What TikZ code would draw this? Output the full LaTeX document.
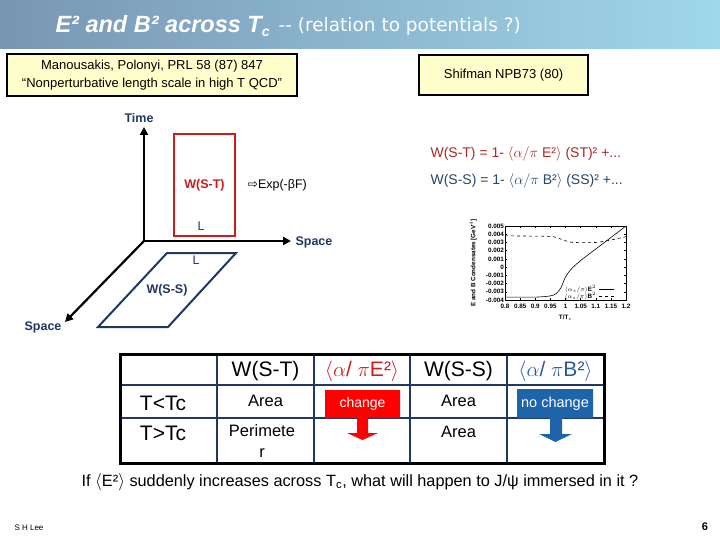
\documentclass[tikz,border=0pt]{standalone}
\usepackage{fontspec}
\setmainfont{Liberation Sans}
\newfontfamily\dejavu{DejaVu Sans}
\usetikzlibrary{positioning,arrows.meta}
\definecolor{navy}{RGB}{31,56,100}
\definecolor{noteyellow}{RGB}{255,255,204}
\definecolor{loopred}{RGB}{204,28,28}
\definecolor{formred}{RGB}{170,40,40}
\definecolor{formnavy}{RGB}{40,70,110}
\definecolor{headblue}{RGB}{40,90,160}
\definecolor{nochblue}{RGB}{30,100,170}
\definecolor{bannerL}{RGB}{120,150,180}
\definecolor{bannerM}{RGB}{20,50,120}
\definecolor{bannerR}{RGB}{160,215,235}
\begin{document}
\begin{tikzpicture}[x=1pt,y=-1pt,
  refbox/.style={draw=black,line width=2pt,fill=noteyellow,align=center,
    font=\fontsize{13}{18}\selectfont},
  axislabel/.style={text=navy,font=\fontsize{12.5}{14}\selectfont\bfseries},
  axisline/.style={line width=2.2pt,-{Triangle[length=8pt,width=8pt]}},
  gridline/.style={draw=navy,line width=1.2pt},
  cell/.style={font=\fontsize{16.5}{21}\selectfont,align=center},
  headcell/.style={font=\fontsize{21}{24}\selectfont},
  ticklab/.style={font=\fontsize{6.3}{7}\selectfont\bfseries,inner sep=1pt}]
\useasboundingbox (0,0) rectangle (720,540);
\fill[white] (0,0) rectangle (720,540);

% banner
\shade[left color=bannerL,middle color=bannerM,right color=bannerR] (0,0) rectangle (720,49);
\node[anchor=west,text=white,font=\fontsize{23.5}{26}\selectfont\bfseries\itshape] (title) at (52,26)
  {E² and B² across T\raisebox{-0.35ex}{\fontsize{14}{14}\selectfont c}};
\node[anchor=west,text=white,font=\dejavu\fontsize{18.5}{20}\selectfont] (subtitle) at ([xshift=2pt]title.east) {-- (relation to potentials ?)};

% references
\node[refbox,minimum width=290pt,minimum height=42pt] (manou) at (152,75)
  {Manousakis, Polonyi, PRL 58 (87) 847\\``Nonperturbative length scale in high T QCD''};
\node[refbox,minimum width=169pt,minimum height=40pt] (shifman) at (503.5,75) {Shifman NPB73 (80)};

% space-time axes
\coordinate (origin) at (144,241);
\coordinate (timetip) at (144,127);
\coordinate (spacetip) at (291,241);
\coordinate (depthtip) at (65,322);
\draw[axisline] (origin) -- (timetip);
\draw[axisline] (origin) -- (spacetip);
\draw[axisline] (origin) -- (depthtip);
\node[axislabel] (time) at (139,118) {Time};
\node[axislabel,anchor=west] (spaceR) at (292,242) {Space};
\node[axislabel] (spaceL) at (43,327) {Space};

% loops
\node[draw=loopred,line width=2.5pt,minimum width=61pt,minimum height=102pt,text=loopred,
  font=\fontsize{12.5}{14}\selectfont\bfseries] (wst) at (204.5,185) {W(S-T)};
\node[text=navy,font=\fontsize{12.5}{14}\selectfont] (lst) at (201,226) {L};
\node[anchor=west,font=\fontsize{12.5}{14}\selectfont] (expf) at (244,185) {{\dejavu⇨}Exp(-βF)};
\draw[navy,line width=2pt] (167,253) -- (236,253) -- (168,327) -- (98,327) -- cycle;
\node[text=navy,font=\fontsize{12.5}{14}\selectfont] (lss) at (196,260) {L};
\node[text=navy,font=\fontsize{12.5}{14}\selectfont\bfseries] (wss) at (167,290) {W(S-S)};

% expansions
\node[anchor=west,text=formred,font=\fontsize{14}{16}\selectfont] (eqst) at (427,154)
  {W(S-T) = 1- $\langle\alpha/\pi$ E²$\rangle$ (ST)² +...};
\node[anchor=west,text=formnavy,font=\fontsize{14}{16}\selectfont] (eqss) at (427,181)
  {W(S-S) = 1- $\langle\alpha/\pi$ B²$\rangle$ (SS)² +...};

% condensates plot
\begin{scope}[shift={(505,300)},x=302.5pt,y=8.22pt]
  \draw[line width=0.6pt] (0,0) rectangle (0.4,9);
  \foreach \i/\lab in {0/-0.004,1/-0.003,2/-0.002,3/-0.001,4/0,5/0.001,6/0.002,7/0.003,8/0.004,9/0.005} {
    \draw[line width=0.4pt] (0,\i) -- ++(0.008,0);
    \draw[line width=0.4pt] (0.4,\i) -- ++(-0.008,0);
    \node[ticklab,anchor=east] at (0,\i) {\lab};
  }
  \foreach \i/\lab in {0/0.8,0.05/0.85,0.1/0.9,0.15/0.95,0.2/1,0.25/1.05,0.3/1.1,0.35/1.15,0.4/1.2} {
    \draw[line width=0.4pt] (\i,0) -- ++(0,0.3);
    \draw[line width=0.4pt] (\i,9) -- ++(0,-0.3);
    \node[ticklab,anchor=north] at (\i,-0.4) {\lab};
  }
  \node[ticklab] (ttc) at (0.2,-2.2) {T/T$_c$};
  \node[ticklab,rotate=90] (ylab) at (-0.105,4.5) {E and B Condensates [GeV$^4$]};
  \draw[line width=0.6pt] plot[smooth] coordinates {(0,0.35) (0.1,0.35) (0.15,0.5) (0.17,0.8)
    (0.185,1.5) (0.2,2.8) (0.22,3.8) (0.25,4.8) (0.3,6.2) (0.35,7.6) (0.4,9)};
  \draw[line width=0.6pt,dashed] plot[smooth] coordinates {(0,7.8) (0.14,7.75) (0.17,7.6)
    (0.2,7.2) (0.23,7.0) (0.3,7.0) (0.35,7.3) (0.4,7.7)};
  \node[ticklab,anchor=east] (legE) at (0.305,1.35) {$\langle\alpha_s/\pi\rangle$E$^2$};
  \node[ticklab,anchor=east] (legB) at (0.305,0.5) {$\langle\alpha_s/\pi\rangle$B$^2$};
  \draw[line width=0.5pt] (0.31,1.35) -- (0.36,1.35);
  \draw[line width=0.6pt,dashed] (0.31,0.5) -- (0.36,0.5);
\end{scope}

% table
\draw[gridline] (217,354) -- (217,463) (314,354) -- (314,463) (410,354) -- (410,463)
  (507,354) -- (507,463) (120,385) -- (604,385) (120,418) -- (604,418);
\draw[line width=3pt] (120,354) rectangle (604,463);
\node[headcell] (hwst) at (265.5,371) {W(S-T)};
\node[headcell,text=loopred] (hE) at (362,371) {$\langle\alpha$/ $\pi$E²$\rangle$};
\node[headcell] (hwss) at (458.5,371) {W(S-S)};
\node[headcell,text=headblue] (hB) at (555.5,371) {$\langle\alpha$/ $\pi$B²$\rangle$};
\node[headcell] (tlow) at (163,403) {T<Tc};
\node[headcell] (thigh) at (163,433) {T>Tc};
\node[cell] (area1) at (265.5,401) {Area};
\node[cell] (perim) at (262,441) {Perimete\\r};
\node[cell] (area2) at (458.5,401) {Area};
\node[cell] (area3) at (458.5,432) {Area};

% change callouts
\fill[red] (325,390) -- (400,390) -- (400,418) -- (368,418) -- (368,433) -- (378,433)
  -- (362.5,440) -- (347,433) -- (357,433) -- (357,418) -- (325,418) -- cycle;
\node[text=white,font=\fontsize{14}{16}\selectfont] (chg) at (362.5,404) {change};
\fill[nochblue] (517,389) -- (593,389) -- (593,418) -- (562,418) -- (562,434) -- (572,434)
  -- (555.5,442) -- (539,434) -- (550,434) -- (550,418) -- (517,418) -- cycle;
\node[text=white,font=\fontsize{14.5}{16}\selectfont] (nochg) at (555,404) {no change};

% question
\node[font=\fontsize{16.3}{18}\selectfont] (question) at (360,482)
  {If $\langle$E²$\rangle$ suddenly increases across T$_{\mathrm c}$, what will happen to J/ψ immersed in it ?};
\node[anchor=west,font=\fontsize{8}{10}\selectfont] (author) at (11,528) {S H Lee};
\node[font=\fontsize{11}{13}\selectfont\bfseries] (page) at (705,527) {6};
\end{tikzpicture}
\end{document}
